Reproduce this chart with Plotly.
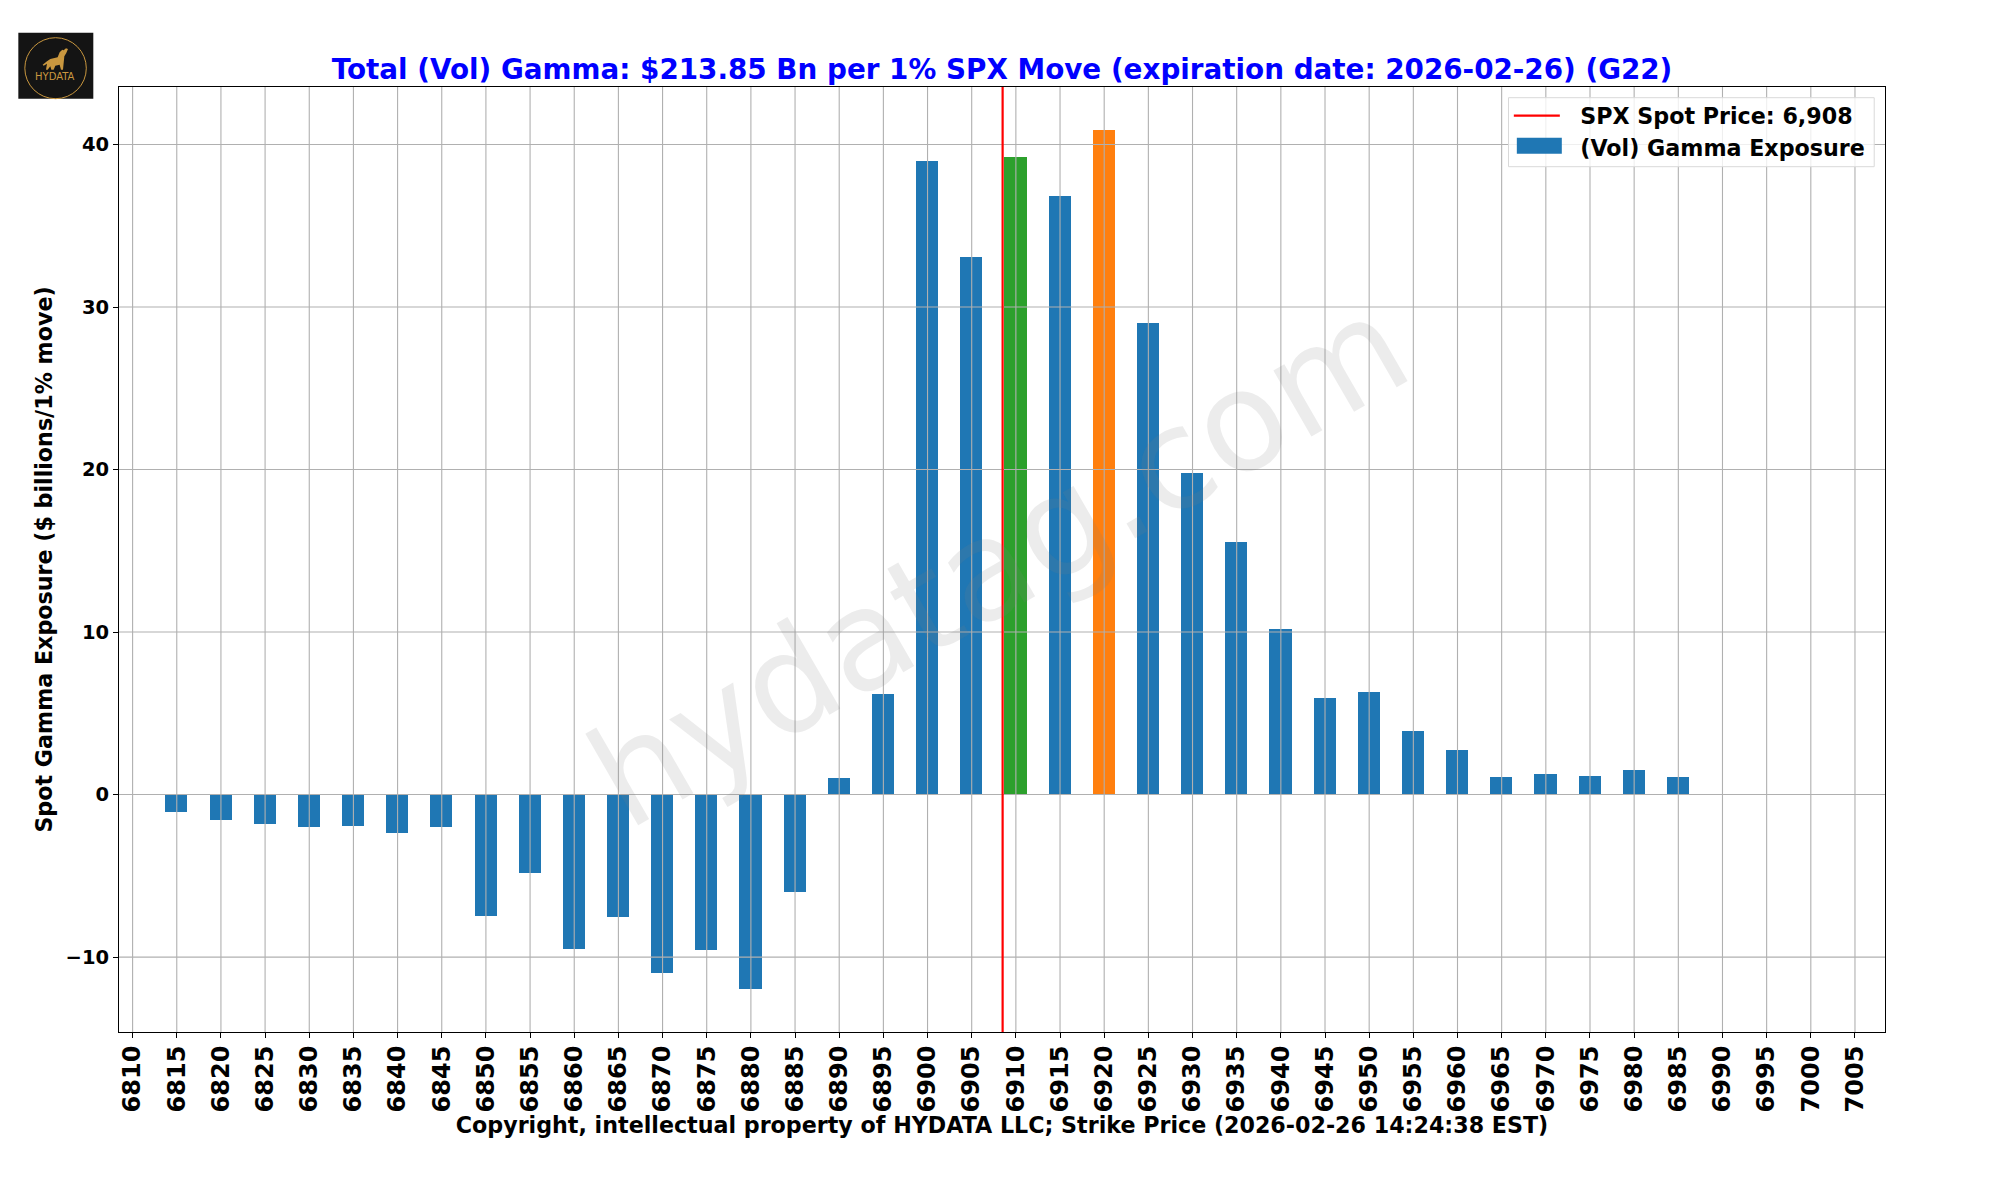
import plotly.graph_objects as go

strikes = list(range(6810, 7010, 5))
gamma = [None, -1.07, -1.58, -1.83, -2.01, -1.95, -2.38, -2.01, -7.49, -4.84,
         -9.52, -7.55, -11.0, -9.58, -11.98, -6.01, 1.0, 6.2, 38.97, 33.07,
         39.22, 36.82, 40.88, 29.0, 19.77, 15.53, 10.17, 5.93, 6.30, 3.90,
         2.73, 1.07, 1.25, 1.13, 1.50, 1.07, None, None, None, None]
BLUE, GREEN, ORANGE = "#1f77b4", "#2ca02c", "#ff7f0e"
highlight = {6910: GREEN, 6920: ORANGE}
bar_colors = [highlight.get(s, BLUE) for s in strikes]
spot_marker = 6908.5
y_ticks = [-10, 0, 10, 20, 30, 40]
x_range = [6808.46, 7008.4]
y_range = [-14.61, 43.54]

W, H = 2000, 1200
L, R, T, B = 118.7, 1885.3, 87.3, 1032.3
FONT = "DejaVu Sans"
GOLD = "#c9973f"


def px(x):
    return (x - L) / (R - L)


def py(y):
    return (B - y) / (B - T)


fig = go.Figure()
fig.add_trace(go.Bar(x=strikes, y=gamma, width=2.5, offset=-1.29, marker=dict(color=bar_colors, line_width=0),
                     showlegend=False, legendgroup="g", name="(Vol) Gamma Exposure"))

# grid sits over the bars in the reference
gx, gy = [], []
for s in strikes:
    gx += [s, s, None]
    gy += [y_range[0], y_range[1], None]
for v in y_ticks:
    gx += [x_range[0], x_range[1], None]
    gy += [v, v, None]
fig.add_trace(go.Scatter(x=gx, y=gy, mode="lines", line=dict(color="#b0b0b0", width=1.1),
                         hoverinfo="skip", showlegend=False))

fig.add_trace(go.Scatter(x=[spot_marker, spot_marker], y=y_range, mode="lines",
                         line=dict(color="#ff0000", width=2.2), name="\u00a0\u00a0SPX Spot Price: 6,908"))
# legend row for the bars; its wide swatch is the rect below
fig.add_trace(go.Scatter(x=[None], y=[None], mode="lines", line=dict(color="rgba(0,0,0,0)", width=2),
                         legendgroup="g", name="\u00a0\u00a0(Vol) Gamma Exposure"))

# logo
wolf = [(127, 135), (140, 125), (150, 118), (172, 113), (178, 98), (186, 90), (190, 92), (197, 86),
        (203, 88), (198, 100), (192, 110), (190, 130), (188, 150), (182, 150), (178, 135), (165, 138),
        (160, 150), (153, 150), (150, 140), (142, 150), (137, 150), (140, 132), (130, 138)]
wolf_path = "M" + " L".join(f"{px(a / 3):.5f},{py(b / 3 + 20):.5f}" for a, b in wolf) + " Z"
shapes = [
    dict(type="rect", xref="paper", yref="paper", x0=px(18), x1=px(93), y0=py(99), y1=py(33),
         fillcolor="#141414", line_width=0, layer="above"),
    dict(type="circle", xref="paper", yref="paper", x0=px(24.5), x1=px(86), y0=py(99), y1=py(38),
         line=dict(color=GOLD, width=1), layer="above"),
    dict(type="path", xref="paper", yref="paper", path=wolf_path, fillcolor=GOLD, line_width=0, layer="above"),
    # legend frame and bar swatch
    dict(type="rect", xref="paper", yref="paper", x0=px(1508.7), x1=px(1874.5), y0=py(167), y1=py(98),
         fillcolor="rgba(255,255,255,0.8)", line=dict(color="#d9d9d9", width=1), layer="above"),
    dict(type="rect", xref="paper", yref="paper", x0=px(1517), x1=px(1562), y0=py(154), y1=py(138),
         fillcolor=BLUE, line_width=0, layer="above"),
]

annotations = [
    dict(text="hydatag.com", xref="paper", yref="paper", x=px(998), y=py(562), xanchor="center",
         yanchor="middle", showarrow=False, textangle=-30,
         font=dict(family=FONT, size=139, color="rgba(128,128,128,0.15)")),
    dict(text="HYDATA", xref="paper", yref="paper", x=px(54.5), y=py(77), xanchor="center",
         yanchor="middle", showarrow=False, font=dict(family=FONT, size=10, color=GOLD)),
]

fig.update_layout(
    width=W, height=H,
    margin=dict(l=L, r=W - R, t=T, b=H - B, pad=0, autoexpand=False),
    plot_bgcolor="white", paper_bgcolor="white",
    font=dict(family=FONT, color="black"),
    title=dict(text="<b>Total (Vol) Gamma: $213.85 Bn per 1% SPX Move (expiration date: 2026-02-26) (G22)</b>",
               font=dict(family=FONT, size=27.8, color="#0000ff"), x=0.5, xref="paper", xanchor="center",
               y=1, yref="paper", yanchor="bottom", pad=dict(b=8)),
    xaxis=dict(range=x_range, tickmode="array", tickvals=strikes, ticktext=[str(s) for s in strikes],
               tickangle=-90, tickfont=dict(family=FONT, size=24, weight="bold"), ticks="outside", ticklen=5,
               ticklabelstandoff=-2,
               tickwidth=1, tickcolor="black", showgrid=False, zeroline=False, showline=True, linecolor="black",
               linewidth=1, mirror=True, automargin=False,
               title=dict(text="<b>Copyright, intellectual property of HYDATA LLC; Strike Price (2026-02-26 14:24:38 EST)</b>",
                          font=dict(family=FONT, size=22.2), standoff=0)),
    yaxis=dict(range=y_range, tickmode="array", tickvals=y_ticks, ticktext=[str(v).replace("-", "\u2212") for v in y_ticks],
               tickfont=dict(family=FONT, size=19.5, weight="bold"), ticks="outside", ticklen=5, tickwidth=1,
               tickcolor="black", showgrid=False, zeroline=False, showline=True, linecolor="black", linewidth=1,
               mirror=True, automargin=True,
               title=dict(text="<b>Spot Gamma Exposure ($ billions/1% move)</b>", font=dict(family=FONT, size=22.2),
                          standoff=6)),
    legend=dict(x=px(1509), y=py(95), xanchor="left", yanchor="top", bgcolor="rgba(0,0,0,0)",
                borderwidth=0, itemwidth=46, font=dict(family=FONT, size=22.2, weight="bold"),
                traceorder="normal", itemclick=False),
    shapes=shapes, annotations=annotations, bargap=0, hovermode=False,
)
fig.write_html("out.html", post_script="document.body.style.margin='0';", config={"displayModeBar": False})
